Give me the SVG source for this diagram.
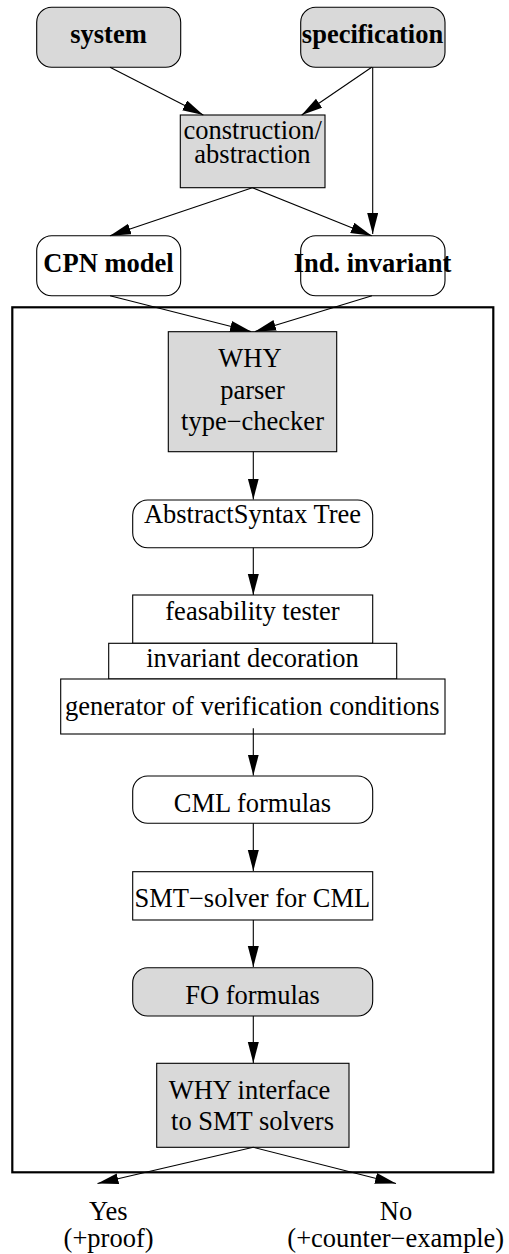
<svg xmlns="http://www.w3.org/2000/svg" width="509" height="1254" viewBox="0 0 509 1254">
<style>
text{font-family:"Liberation Serif","Times New Roman",serif;font-size:26.5px;fill:#000;text-anchor:middle}
.b{font-weight:bold}
.g{fill:#d9d9d9;stroke:#000;stroke-width:1.1}
.w{fill:#fff;stroke:#000;stroke-width:1.1}
.c{fill:none;stroke:#000;stroke-width:1.1;marker-end:url(#ah)}
</style>
<defs>
<marker id="ah" markerUnits="userSpaceOnUse" markerWidth="22" markerHeight="12" refX="21" refY="5.5" orient="auto">
<path d="M0,0 L21,5.5 L0,11 z" fill="#000"/>
</marker>
</defs>
<rect id="frame" x="12.3" y="307.3" width="481" height="865" fill="none" stroke="#000" stroke-width="2.2"/>
<g id="system"><rect class="g" x="36.7" y="7.3" width="144" height="60" rx="15"/><text class="b" x="108.5" y="43">system</text></g>
<g id="specification"><rect class="g" x="300.7" y="7.3" width="144.3" height="60" rx="15"/><text class="b" x="372.5" y="43">specification</text></g>
<g id="construction"><rect class="g" x="180.3" y="115" width="144.7" height="72.7"/><text x="252.7" y="138.8">construction/</text><text x="252.5" y="163.3">abstraction</text></g>
<g id="cpn"><rect class="w" x="36.7" y="235.7" width="144" height="60" rx="15"/><text class="b" x="108.5" y="271.7">CPN model</text></g>
<g id="indinv"><rect class="w" x="300.7" y="235.7" width="144.3" height="60" rx="15"/><text class="b" x="372.5" y="271.7">Ind. invariant</text></g>
<g id="why"><rect class="g" x="168.3" y="331.7" width="168.4" height="120"/><text x="250" y="367.3">WHY</text><text x="252.5" y="399">parser</text><text x="252.5" y="429.5">type−checker</text></g>
<g id="ast"><rect class="w" x="132.7" y="500" width="240" height="47.7" rx="15"/><text x="252.5" y="522.7">AbstractSyntax Tree</text></g>
<g id="feas"><rect class="w" x="132.7" y="595" width="240" height="48.3"/><text x="252.5" y="620">feasability tester</text></g>
<g id="invdec"><rect class="w" x="108.7" y="643.3" width="288" height="35.7"/><text x="252.5" y="666.7">invariant decoration</text></g>
<g id="gen"><rect class="w" x="60.7" y="679" width="384.3" height="55"/><text x="252.3" y="715">generator of verification conditions</text></g>
<g id="cml"><rect class="w" x="132.7" y="776" width="240" height="47.3" rx="15"/><text x="252.5" y="811.7">CML formulas</text></g>
<g id="smt"><rect class="w" x="132.7" y="871.7" width="240" height="48.3"/><text x="252.3" y="906.7">SMT−solver for CML</text></g>
<g id="fo"><rect class="g" x="132.7" y="967.7" width="240" height="48.3" rx="15"/><text x="252.5" y="1004">FO formulas</text></g>
<g id="whyif"><rect class="g" x="156.7" y="1063.3" width="192.3" height="84"/><text x="249.5" y="1099.3">WHY interface</text><text x="252.5" y="1130">to SMT solvers</text></g>
<g id="yes"><text x="108.4" y="1220">Yes</text><text x="108.6" y="1246.7">(+proof)</text></g>
<g id="no"><text x="396" y="1220">No</text><text x="395.7" y="1246.7">(+counter−example)</text></g>
<g id="connectors">
<line class="c" x1="110" y1="67.3" x2="203.3" y2="115"/>
<line class="c" x1="371.7" y1="67.3" x2="301.7" y2="115"/>
<line class="c" x1="372.7" y1="67.3" x2="372.7" y2="234"/>
<line class="c" x1="252.3" y1="187.7" x2="110" y2="235.7"/>
<line class="c" x1="252.3" y1="187.7" x2="371.7" y2="235.7"/>
<line class="c" x1="110" y1="295.7" x2="251" y2="331.5"/>
<line class="c" x1="372" y1="295.7" x2="255" y2="331.5"/>
<line class="c" x1="253.3" y1="451.7" x2="253.3" y2="499.5"/>
<line class="c" x1="253.3" y1="547.7" x2="253.3" y2="595"/>
<line class="c" x1="253.3" y1="728.3" x2="253.3" y2="775.5"/>
<line class="c" x1="253.3" y1="823.3" x2="253.3" y2="871"/>
<line class="c" x1="253.3" y1="920" x2="253.3" y2="967"/>
<line class="c" x1="253.3" y1="1016" x2="253.3" y2="1063"/>
<line class="c" x1="253.3" y1="1147.3" x2="97.5" y2="1183.5"/>
<line class="c" x1="253.3" y1="1147.3" x2="396" y2="1183.5"/>
</g>
</svg>
